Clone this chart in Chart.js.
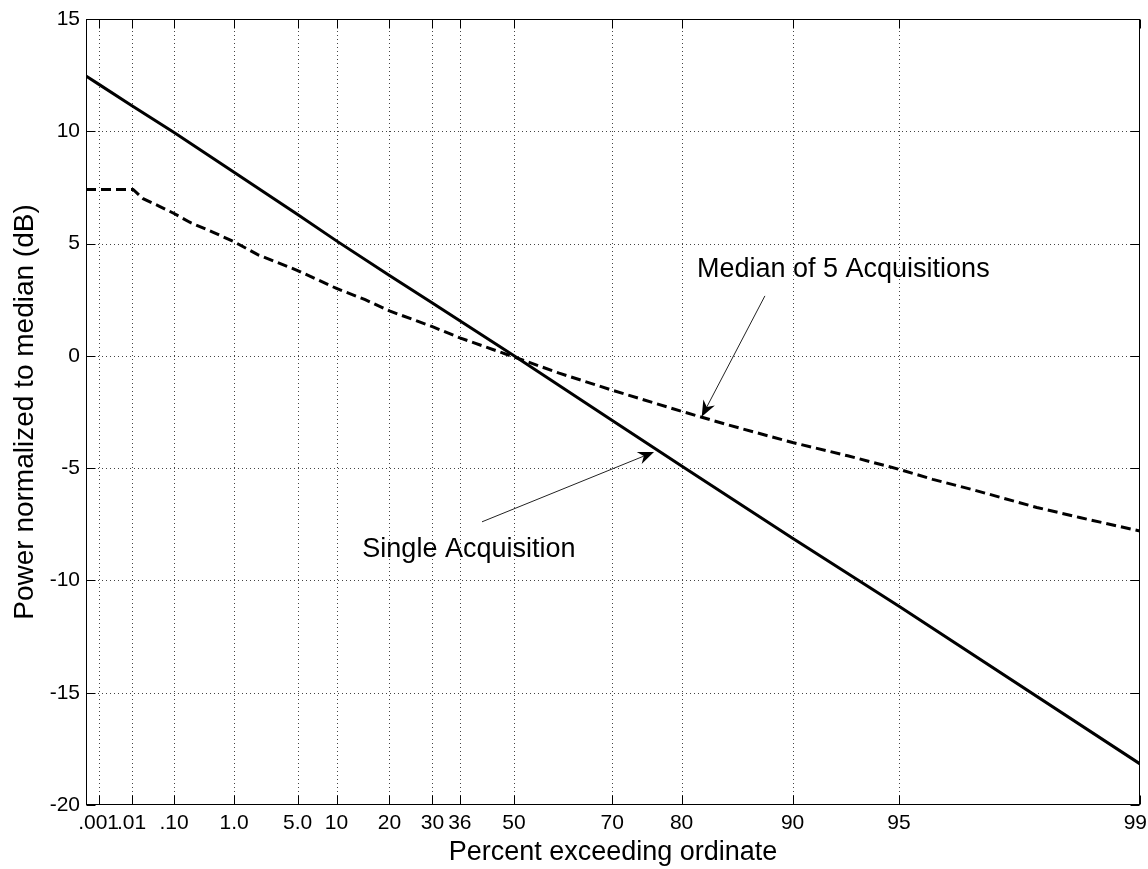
<!DOCTYPE html>
<html><head><meta charset="utf-8">
<script src="https://cdn.jsdelivr.net/npm/chart.js@4.4.0/dist/chart.umd.min.js"></script>
<style>html,body{margin:0;padding:0;background:#fff;} #wrap{width:1148px;height:869px;position:relative;}</style>
</head><body><div id="wrap"><canvas id="c" width="1148" height="869"></canvas></div>
<script>
// ---- data (x in "percent exceeding ordinate", y in dB) ----
const tickPercents = [0.001, 0.01, 0.1, 1, 5, 10, 20, 30, 36.79, 50, 70, 80, 90, 95, 99];
const tickLabels = ['.001', '.01', '.10', '1.0', '5.0', '10', '20', '30', '36', '50', '70', '80', '90', '95', '99'];
const xRangePercent = [0.00036, 99];
const yTicks = [-20, -15, -10, -5, 0, 5, 10, 15];

const singlePercent = [0.00036, 0.001, 0.01, 0.1, 1, 5, 10, 20, 30, 36.79, 50, 70, 80, 90, 95, 99];
const singleDb = [12.46, 12.1, 11.15, 9.95, 8.18, 6.3, 5.12, 3.58, 2.35, 1.56, 0, -2.88, -4.9, -8.12, -11.15, -18.17];

const medianPercent = [0.00036, 0.011, 0.02, 0.05, 0.1, 0.2, 0.5, 1, 2, 5, 10, 15, 20, 30, 36.79, 40, 50, 60, 70, 80, 85, 90, 93, 95, 96, 97, 98, 98.5, 99];
const medianDb = [7.41, 7.41, 7.0, 6.65, 6.34, 5.95, 5.5, 5.08, 4.5, 3.8, 3.0, 2.5, 2.0, 1.3, 0.8, 0.6, -0.05, -0.77, -1.53, -2.47, -3.08, -3.86, -4.45, -5.05, -5.5, -6.0, -6.75, -7.2, -7.8];

const annotationLabels = ['Median of 5 Acquisitions', 'Single Acquisition'];
const annotationTextAt = [[81.78, 3.51], [14.46, -8.95]];
const annotationArrowFrom = [[88.07, 2.67], [42.28, -7.39]];
const annotationArrowTo = [[82.30, -2.71], [76.42, -4.28]];

// Rayleigh probability axis mapping (percent -> axis coordinate)
function rayleigh(p) { return 10 * Math.log10(-Math.log(p / 100) / Math.LN2); }

const FONT = '"Liberation Sans", Arial, Helvetica, sans-serif';

const framePlugin = {
  id: 'frame',
  beforeDatasetsDraw(chart) {
    const {ctx, chartArea: {left, right, top, bottom}, scales: {x, y}} = chart;
    ctx.save();
    ctx.strokeStyle = '#444';
    ctx.lineWidth = 1;
    ctx.setLineDash([1, 3]);
    x.ticks.forEach(t => {
      const px = Math.round(x.getPixelForValue(t.value)) + 0.5;
      if (px <= left + 2 || px >= right - 2) return;
      ctx.beginPath(); ctx.moveTo(px, top); ctx.lineTo(px, bottom); ctx.stroke();
    });
    y.ticks.forEach(t => {
      const py = Math.round(y.getPixelForValue(t.value)) + 0.5;
      if (py <= top + 2 || py >= bottom - 2) return;
      ctx.beginPath(); ctx.moveTo(left, py); ctx.lineTo(right, py); ctx.stroke();
    });
    ctx.restore();
  },
  afterDatasetsDraw(chart) {
    const {ctx, chartArea: {left, right, top, bottom}, scales: {x, y}, width} = chart;
    ctx.save();
    ctx.setLineDash([]);
    ctx.strokeStyle = '#000';
    ctx.lineWidth = 1;
    const L = Math.round(left) + 0.5, R = Math.round(right) - 0.5, T = Math.round(top) + 0.5, B = Math.round(bottom) - 0.5;
    ctx.strokeRect(L, T, R - L, B - T);
    const tl = 9;
    ctx.fillStyle = '#000';
    ctx.font = '21px ' + FONT;
    ctx.textBaseline = 'top';
    ctx.textAlign = 'left';
    x.ticks.forEach((t, i) => {
      const cx = x.getPixelForValue(t.value);
      const px = Math.round(cx) + 0.5;
      ctx.beginPath(); ctx.moveTo(px, B); ctx.lineTo(px, B - tl); ctx.stroke();
      ctx.beginPath(); ctx.moveTo(px, T); ctx.lineTo(px, T + tl); ctx.stroke();
      const lbl = tickLabels[i];
      const w = ctx.measureText(lbl).width;
      let lx = cx - w / 2;
      lx = Math.max(0, Math.min(lx, width - w - 1));
      ctx.fillText(lbl, lx, bottom + 8);
    });
    y.ticks.forEach(t => {
      const py = Math.round(y.getPixelForValue(t.value)) + 0.5;
      ctx.beginPath(); ctx.moveTo(L, py); ctx.lineTo(L + tl, py); ctx.stroke();
      ctx.beginPath(); ctx.moveTo(R, py); ctx.lineTo(R - tl, py); ctx.stroke();
    });
    // annotations
    ctx.font = '27px ' + FONT;
    ctx.textBaseline = 'alphabetic';
    ctx.textAlign = 'left';
    annotationLabels.forEach((txt, i) => {
      const tx = x.getPixelForValue(rayleigh(annotationTextAt[i][0]));
      const ty = y.getPixelForValue(annotationTextAt[i][1]);
      ctx.fillText(txt, tx, ty);
      const x1 = x.getPixelForValue(rayleigh(annotationArrowFrom[i][0]));
      const y1 = y.getPixelForValue(annotationArrowFrom[i][1]);
      const x2 = x.getPixelForValue(rayleigh(annotationArrowTo[i][0]));
      const y2 = y.getPixelForValue(annotationArrowTo[i][1]);
      const dx = x2 - x1, dy = y2 - y1, len = Math.hypot(dx, dy);
      const ux = dx / len, uy = dy / len, nx = -uy, ny = ux;
      const hl = 16, hw = 6.5, notch = 11;
      ctx.strokeStyle = '#222';
      ctx.lineWidth = 1;
      ctx.beginPath(); ctx.moveTo(x1, y1); ctx.lineTo(x2 - ux * notch, y2 - uy * notch); ctx.stroke();
      ctx.beginPath();
      ctx.moveTo(x2, y2);
      ctx.lineTo(x2 - ux * hl + nx * hw, y2 - uy * hl + ny * hw);
      ctx.lineTo(x2 - ux * notch, y2 - uy * notch);
      ctx.lineTo(x2 - ux * hl - nx * hw, y2 - uy * hl - ny * hw);
      ctx.closePath();
      ctx.fill();
    });
    ctx.restore();
  }
};

new Chart(document.getElementById('c'), {
  type: 'line',
  data: {
    datasets: [
      {
        label: 'Single Acquisition',
        data: singlePercent.map((p, i) => ({x: rayleigh(p), y: singleDb[i]})),
        borderColor: '#000', borderWidth: 3, pointRadius: 0, tension: 0, fill: false
      },
      {
        label: 'Median of 5 Acquisitions',
        data: medianPercent.map((p, i) => ({x: rayleigh(p), y: medianDb[i]})),
        borderColor: '#000', borderWidth: 3, borderDash: [10, 5], pointRadius: 0, tension: 0, fill: false
      }
    ]
  },
  options: {
    responsive: false, animation: false, devicePixelRatio: 1,
    layout: {padding: {top: 19, right: 8, left: 0, bottom: 0}},
    plugins: {legend: {display: false}, tooltip: {enabled: false}},
    scales: {
      x: {
        type: 'linear', reverse: true,
        min: rayleigh(xRangePercent[1]), max: rayleigh(xRangePercent[0]),
        afterBuildTicks: s => { s.ticks = tickPercents.map(p => ({value: rayleigh(p)})); },
        afterFit: s => { s.height = 64; s.paddingLeft = 0; s.paddingRight = 0; },
        ticks: {display: false, autoSkip: false, maxRotation: 0, minRotation: 0},
        grid: {display: false, drawTicks: false},
        border: {display: false},
        title: {display: true, text: 'Percent exceeding ordinate', color: '#000',
          font: {family: FONT, size: 27}, padding: {top: 0, bottom: 0}}
      },
      y: {
        type: 'linear', min: -20, max: 15,
        afterBuildTicks: s => { s.ticks = yTicks.map(v => ({value: v})); },
        afterFit: s => { s.width = 86; },
        ticks: {padding: 6, color: '#000', font: {family: FONT, size: 21}},
        grid: {display: false, drawTicks: false},
        border: {display: false},
        title: {display: true, text: 'Power normalized to median (dB)', color: '#000',
          font: {family: FONT, size: 28}, padding: {top: 8, bottom: 0}}
      }
    }
  },
  plugins: [framePlugin]
});
</script>
</body></html>
